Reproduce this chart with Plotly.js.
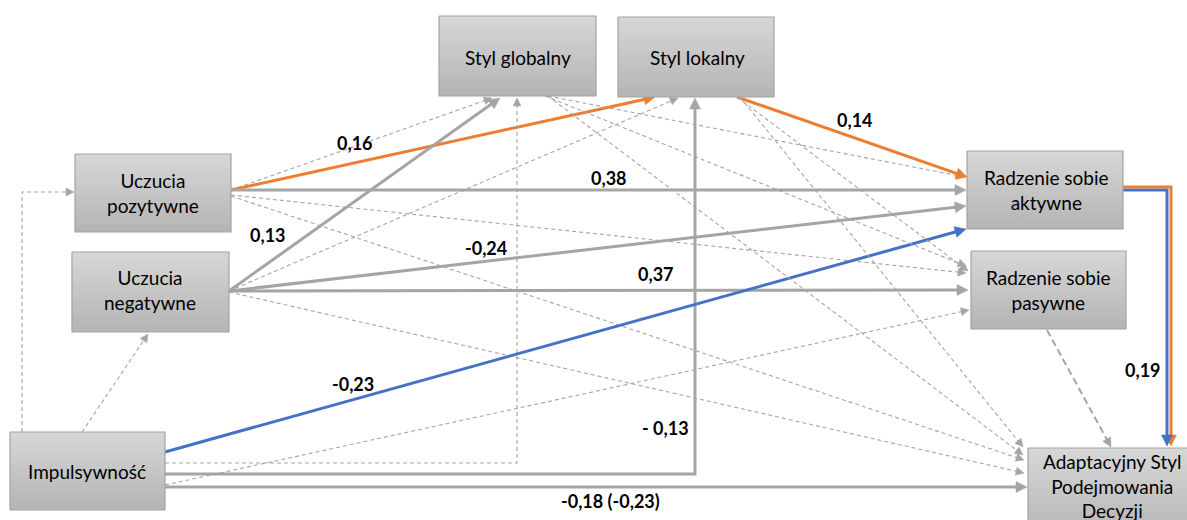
<!DOCTYPE html>
<html>
<head>
<meta charset="utf-8">
<script src="https://cdn.plot.ly/plotly-3.0.1.min.js"></script>
<style>html,body{margin:0;padding:0;background:#fff}#chart{width:1187px;height:520px}</style>
</head>
<body>
<div id="chart"></div>
<script>
// ---------- DATA ----------
const nodeKeys   = ['poz', 'neg', 'imp', 'sg', 'sl', 'ra', 'rp', 'ad'];
const nodeLabels = ['Uczucia<br>pozytywne', 'Uczucia<br>negatywne', 'Impulsywność',
                    'Styl globalny', 'Styl lokalny', 'Radzenie sobie<br>aktywne',
                    'Radzenie sobie<br>pasywne', 'Adaptacyjny Styl<br>Podejmowania<br>Decyzji'];

const edgeFrom = ['poz','poz','poz','poz','poz','neg','neg','neg','neg','neg','imp','imp','imp','imp','imp','imp','imp','sg','sg','sg','sl','sl','sl','ra','ra','rp'];
const edgeTo   = ['sg','sl','ra','rp','ad','sg','sl','ra','rp','ad','poz','neg','sg','sl','ra','rp','ad','ra','rp','ad','ra','rp','ad','ad','ad','ad'];
const edgeCoef = ['','0,16','0,38','','','0,13','','-0,24','0,37','','','','','- 0,13','-0,23','','-0,18 (-0,23)','','','','0,14','','','0,19','',''];
// kind: ns = non-significant (dashed), g = significant grey, o = orange path, b = blue path
const edgeKind = ['ns','o','g','ns','ns','g','ns','g','g','ns','ns','ns','ns','g','b','ns','g','ns','ns','ns','o','ns','ns','b','o','ns2'];

// ---------- LAYOUT GEOMETRY (pixels, y downward) ----------
const boxGeom = {
  poz:[75,231,154,232], neg:[72,229,252,332], imp:[10,165,432,510],
  sg:[439,596,16,96],  sl:[618,774,17,97],  ra:[967,1123,151,229],
  rp:[971,1126,251,329], ad:[1028,1200,448,540]
};
const textPos = {poz:[153,193], neg:[150,290], imp:[87,471], sg:[518,57], sl:[697,57], ra:[1046,190], rp:[1048,290], ad:[1112,486]};
const edgeRoute = [
  [[231,190],[492,98]],
  [[231,190],[655,97]],
  [[231,190],[966,190]],
  [[231,195],[966,273]],
  [[231,196],[1024,460]],
  [[229,291],[500,98]],
  [[229,291],[678,98]],
  [[229,291],[966,206]],
  [[229,291],[968,290]],
  [[229,292],[1024,473]],
  [[22,432],[22,192],[74,192]],
  [[82,432],[148,334]],
  [[165,463],[517,463],[517,98]],
  [[165,474],[695,474],[695,98]],
  [[165,452],[966,229]],
  [[165,485],[969,310]],
  [[165,487],[1027,487]],
  [[548,96],[965,177]],
  [[545,96],[966,266]],
  [[548,96],[1023,455]],
  [[737,97],[967,177]],
  [[737,97],[968,271]],
  [[740,97],[1023,447]],
  [[1123,190],[1167,190],[1167,446]],
  [[1123,187],[1171,187],[1171,446]],
  [[1047,330],[1111,447]]
];
const labelPos = {
  '0,16':[355,143], '0,38':[609,178], '0,13':[268,235], '-0,24':[486,248], '0,37':[656,274],
  '0,14':[855,120], '-0,23':[353,384], '- 0,13':[665,428], '-0,18 (-0,23)':[610,501], '0,19':[1143,370]
};

const styles = {
  ns:  {color:'#A5A5A5', width:1.1, dash:'4px,3px', hl:8, hw:4},
  ns2: {color:'#A5A5A5', width:2,   dash:'7px,4px', hl:9, hw:4.5},
  g:   {color:'#A5A5A5', width:3,   dash:'solid', hl:11, hw:5.5},
  o:   {color:'#ED7D31', width:3,   dash:'solid', hl:11, hw:5.5},
  b:   {color:'#4472C4', width:3,   dash:'solid', hl:11, hw:5.5}
};

// ---------- BUILD ----------
const traces = [];
const headX = {}, headY = {};
edgeRoute.forEach((pts, i) => {
  const st = styles[edgeKind[i]];
  const n = pts.length;
  const [ex, ey] = pts[n-1], [px, py] = pts[n-2];
  const dx = ex - px, dy = ey - py, len = Math.hypot(dx, dy);
  const ux = dx/len, uy = dy/len;
  const bx = ex - ux*st.hl, by = ey - uy*st.hl;
  const xs = pts.map(p => p[0]), ys = pts.map(p => p[1]);
  xs[n-1] = ex - ux*st.hl*0.6; ys[n-1] = ey - uy*st.hl*0.6;
  traces.push({x:xs, y:ys, mode:'lines', line:{color:st.color, width:st.width, dash:st.dash},
               hoverinfo:'skip', showlegend:false, name:edgeFrom[i]+'→'+edgeTo[i]});
  const key = st.color;
  if (!headX[key]) { headX[key] = []; headY[key] = []; }
  headX[key].push(ex, bx - uy*st.hw, bx + uy*st.hw, ex, null);
  headY[key].push(ey, by + ux*st.hw, by - ux*st.hw, ey, null);
});
Object.keys(headX).forEach(c => {
  traces.push({x:headX[c], y:headY[c], mode:'lines', fill:'toself', fillcolor:c,
               line:{color:c, width:0.5}, hoverinfo:'skip', showlegend:false});
});
nodeKeys.forEach(k => {
  const [x0,x1,y0,y1] = boxGeom[k];
  traces.push({x:[x0,x1,x1,x0,x0], y:[y0,y0,y1,y1,y0], mode:'lines', fill:'toself',
    fillcolor:'#c6c6c6',
    fillgradient:{type:'vertical', start:y0, stop:y1, colorscale:[[0,'#d7d7d7'],[1,'#b4b4b4']]},
    line:{color:'#A3A3A3', width:1.2}, hoverinfo:'skip', showlegend:false});
});

const annotations = [];
nodeKeys.forEach((k, i) => {
  annotations.push({x:textPos[k][0], y:textPos[k][1], xref:'x', yref:'y', text:nodeLabels[i],
    showarrow:false, font:{family:'Lato, "Open Sans", sans-serif', size:19, color:'#000'},
    xanchor:'center', yanchor:'middle', align:'center'});
});
edgeCoef.forEach((c, i) => {
  if (!c || !labelPos[c]) return;
  annotations.push({x:labelPos[c][0], y:labelPos[c][1], xref:'x', yref:'y', text:'<b>'+c+'</b>',
    showarrow:false, font:{family:'Lato, "Open Sans", sans-serif', size:18, color:'#000'},
    xanchor:'center', yanchor:'middle'});
  labelPos[c] = null;
});

const layout = {
  width:1187, height:520, margin:{l:0, r:0, t:0, b:0},
  paper_bgcolor:'#ffffff', plot_bgcolor:'#ffffff',
  xaxis:{range:[0,1187], visible:false, fixedrange:true},
  yaxis:{range:[520,0], visible:false, fixedrange:true},
  annotations:annotations, showlegend:false
};
Plotly.newPlot('chart', traces, layout, {staticPlot:true, displayModeBar:false});
</script>
</body>
</html>
